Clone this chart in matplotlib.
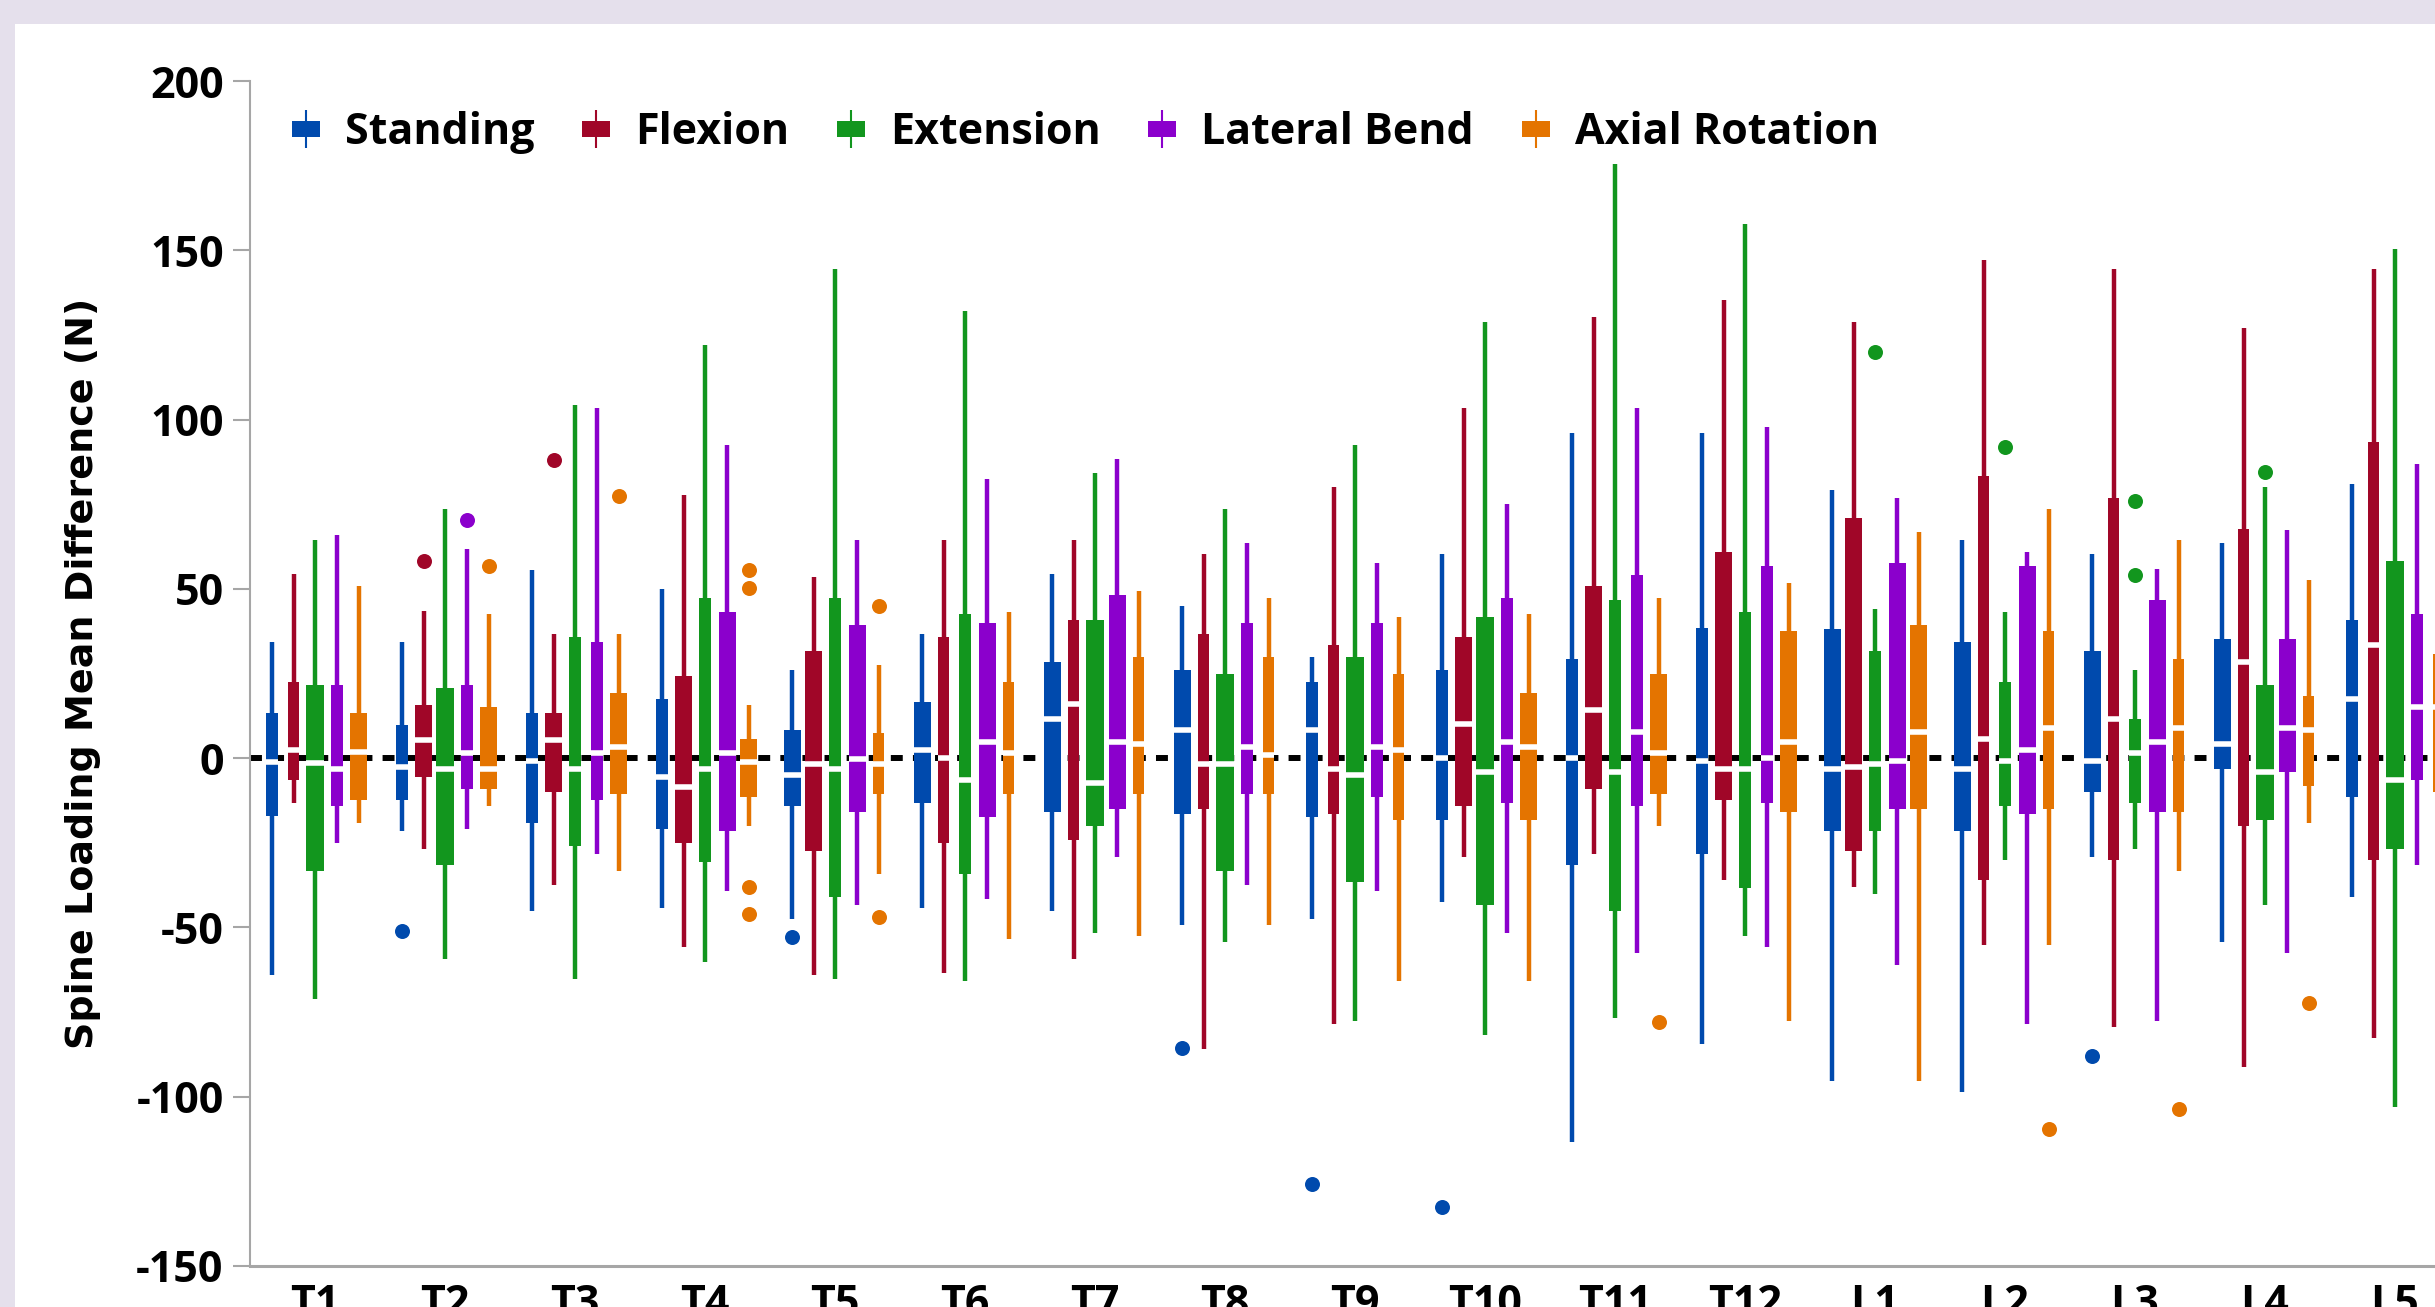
import matplotlib
matplotlib.use("Agg")
import matplotlib.pyplot as plt
from matplotlib.lines import Line2D
from matplotlib.patches import Rectangle
from matplotlib.legend_handler import HandlerTuple

plt.rcParams["axes.unicode_minus"] = False

# --- data ---
levels = ["T1", "T2", "T3", "T4", "T5", "T6", "T7", "T8", "T9", "T10",
          "T11", "T12", "L1", "L2", "L3", "L4", "L5"]
series = ["Standing", "Flexion", "Extension", "Lateral Bend", "Axial Rotation"]

# (whisker low, Q1, median, Q3, whisker high) per level
standing = [(-64, -17.2, -1, 13.3, 34.3), (-21.6, -12.3, -2.7, 9.9, 34.3),
            (-45.2, -19.3, -0.8, 13.3, 55.6), (-44.3, -21, -5.7, 17.5, 49.9),
            (-47.6, -14.2, -4.9, 8.2, 25.9), (-44.3, -13.3, 2.5, 16.6, 36.7),
            (-45, -15.8, 11.7, 28.3, 54.4), (-49.3, -16.6, 8.4, 25.9, 45),
            (-47.6, -17.5, 8.4, 22.6, 30), (-42.5, -18.3, 0, 25.9, 60.2),
            (-113.4, -31.6, 0, 29.2, 95.9), (-84.4, -28.3, -0.8, 38.4, 95.9),
            (-95.3, -21.6, -3.3, 38.2, 79.2), (-98.6, -21.6, -3.3, 34.3, 64.3),
            (-29.2, -10.1, -0.8, 31.6, 60.2), (-54.2, -3.3, 4.1, 35.1, 63.4),
            (-40.9, -11.5, 17.5, 40.9, 80.9)]
flexion = [(-13.3, -6.6, 2.5, 22.6, 54.4), (-26.7, -5.7, 5.5, 15.8, 43.5),
           (-37.6, -9.9, 5.3, 13.3, 36.7), (-55.8, -25, -8.6, 24.2, 77.6),
           (-64.1, -27.5, -1.8, 31.6, 53.4), (-63.4, -25, 0, 35.9, 64.3),
           (-59.3, -24.2, 16, 40.9, 64.3), (-86, -15, -1.6, 36.7, 60.2),
           (-78.6, -16.6, -3.3, 33.3, 80.1), (-29.2, -14.2, 10.1, 35.9, 103.5),
           (-28.3, -9, 14.2, 50.9, 130.4), (-35.9, -12.3, -3.3, 61, 135.3),
           (-38.2, -27.5, -2.5, 70.8, 128.7), (-55.2, -35.9, 5.7, 83.3, 147),
           (-79.4, -30, 11.5, 76.8, 144.5), (-91.1, -19.9, 28.3, 67.8, 127.1),
           (-82.7, -30, 33.5, 93.4, 144.5)]
extension = [(-71, -33.3, -1.5, 21.6, 64.3), (-59.3, -31.6, -3.3, 20.7, 73.5),
             (-65.1, -25.9, -3.3, 35.9, 104.3), (-60.2, -30.8, -3.3, 47.4, 122),
             (-65.1, -40.9, -3.3, 47.4, 144.5), (-65.9, -34.3, -6.6, 42.5, 132),
             (-51.7, -19.9, -7.4, 40.9, 84.2), (-54.2, -33.3, -1.6, 25, 73.5),
             (-77.6, -36.7, -4.9, 30, 92.6), (-81.9, -43.3, -4.1, 41.7, 128.7),
             (-76.8, -45, -4.1, 46.6, 175.5), (-52.6, -38.4, -3.3, 43.3, 157.9),
             (-40, -21.6, -1.6, 31.6, 44.1), (-30, -14.2, -0.8, 22.4, 43.3),
             (-26.7, -13.3, 1.6, 11.7, 25.9), (-43.3, -18.3, -4.1, 21.6, 80.1),
             (-102.9, -26.7, -6.6, 58.3, 150.5)]
lateral = [(-25, -14.2, -3.3, 21.6, 65.9), (-21, -9, 1.6, 21.6, 61.8),
           (-28.3, -12.3, 1.6, 34.3, 103.5), (-39.2, -21.6, 1.4, 43.3, 92.6),
           (-43.5, -15.8, -0.2, 39.2, 64.3), (-41.7, -17.5, 4.9, 40, 82.5),
           (-29.2, -15, 4.9, 48.3, 88.5), (-37.6, -10.7, 3.3, 40, 63.4),
           (-39.2, -11.5, 3.3, 40, 57.7), (-51.7, -13.3, 4.9, 47.4, 75.1),
           (-57.5, -14.2, 7.6, 54.2, 103.5), (-55.8, -13.3, 0, 56.7, 97.7),
           (-61, -15, -0.8, 57.7, 76.8), (-78.6, -16.6, 2.5, 56.7, 61),
           (-77.6, -15.8, 4.9, 46.6, 55.8), (-57.5, -4.1, 9, 35.1, 67.5),
           (-31.6, -6.6, 15, 42.5, 86.8)]
axial = [(-19.3, -12.3, 1.8, 13.3, 50.9), (-14.2, -9, -3.3, 15, 42.7),
         (-33.3, -10.7, 3.3, 19.1, 36.7), (-19.9, -11.5, -1, 5.7, 15.8),
         (-34.3, -10.7, -1.8, 7.4, 27.5), (-53.4, -10.7, 1.6, 22.6, 43.3),
         (-52.6, -10.7, 4.1, 30, 49.3), (-49.3, -10.7, 0.8, 30, 47.4),
         (-65.9, -18.3, 2.5, 25, 41.7), (-65.9, -18.3, 3.3, 19.1, 42.5),
         (-19.9, -10.7, 1.6, 25, 47.4), (-77.6, -15.8, 4.9, 37.6, 51.7),
         (-95.3, -15, 7.6, 39.2, 66.7), (-55.2, -15, 9, 37.6, 73.5),
         (-33.3, -15.8, 9, 29.2, 64.3), (-19.1, -8.2, 8.4, 18.3, 52.6),
         (-35, -9.9, 15, 30.8, 55)]

# outliers: level index -> values
standing_out = {1: [-51.1], 4: [-52.8], 7: [-85.6], 8: [-125.8], 9: [-132.6], 14: [-88]}
flexion_out = {1: [58.1], 2: [88.1]}
extension_out = {12: [120.1], 13: [91.8], 14: [76, 54.2], 15: [84.4]}
lateral_out = {1: [70.2]}
axial_out = {1: [56.7], 2: [77.4], 3: [55.6, 50.3, -38.2, -46], 4: [45, -47],
             10: [-77.8], 13: [-109.4], 14: [-103.6], 15: [-72.3]}

# --- style ---
colors = ["#004AAD", "#A00628", "#12961E", "#8B00CC", "#E47400"]
offsets = [-0.33, -0.165, 0.0, 0.17, 0.335]
# box drawn wide (1) or narrow (0)
wide = [
    [0, 0, 0, 0, 1, 1, 1, 1, 0, 0, 0, 0, 1, 1, 1, 1, 0],
    [0, 1, 1, 1, 1, 0, 0, 0, 0, 1, 1, 1, 1, 0, 0, 0, 0],
    [1, 1, 0, 0, 0, 0, 1, 1, 1, 1, 0, 0, 0, 0, 0, 1, 1],
    [0, 0, 0, 1, 1, 1, 1, 0, 0, 0, 0, 0, 1, 1, 1, 1, 0],
    [1, 1, 1, 1, 0, 0, 0, 0, 0, 1, 1, 1, 1, 0, 0, 0, 0],
]
W, H = 2435, 1307
grey = "#A6A6A6"
tick_font = "Open Sans"
tick_weight = "bold"
tick_size = 31

fig = plt.figure(figsize=(W / 100, H / 100), dpi=100)
fig.patch.set_facecolor("#E5E0EC")
fig.add_artist(Rectangle((15 / W, 0), 1, 1 - 24 / H, transform=fig.transFigure,
                         facecolor="white", edgecolor="none", zorder=-10))

ax = fig.add_axes([250 / W, 41 / H, (W - 250) / W, (1266 - 81) / H])
ax.set_facecolor("none")

all_stats = [standing, flexion, extension, lateral, axial]
all_out = [standing_out, flexion_out, extension_out, lateral_out, axial_out]

for s, (stats, outs, col) in enumerate(zip(all_stats, all_out, colors)):
    bxp_stats = []
    for i, (lo, q1, med, q3, hi) in enumerate(stats):
        bxp_stats.append(dict(whislo=lo, q1=q1, med=med, q3=q3, whishi=hi,
                              fliers=outs.get(i, [])))
    pos = [i + offsets[s] for i in range(len(levels))]
    wid = [0.132 if w else 0.088 for w in wide[s]]
    ax.bxp(bxp_stats, positions=pos, widths=wid, patch_artist=True,
           showcaps=False, manage_ticks=False, zorder=3,
           boxprops=dict(facecolor=col, edgecolor=col, linewidth=0),
           whiskerprops=dict(color=col, linewidth=3.2, solid_capstyle="butt"),
           medianprops=dict(color="white", linewidth=4, solid_capstyle="butt"),
           flierprops=dict(marker="o", markerfacecolor=col, markeredgecolor=col,
                           markeredgewidth=0, markersize=10.8))

ax.axhline(0, color="black", linewidth=4.3, linestyle=(0, (2.0, 1.7)), zorder=1)

ax.set_xlim(-0.5, -0.5 + (W - 250) / 130)
ax.set_ylim(-150, 200)
ax.set_yticks([-150, -100, -50, 0, 50, 100, 150, 200])
ax.set_xticks(range(len(levels)))
ax.set_xticklabels(levels)

for sp in ["top", "right"]:
    ax.spines[sp].set_visible(False)
ax.spines["left"].set_color(grey)
ax.spines["left"].set_linewidth(1.5)
ax.spines["bottom"].set_color(grey)
ax.spines["bottom"].set_linewidth(2.2)

ax.tick_params(axis="y", length=12, width=1.5, color=grey, pad=7)
ax.tick_params(axis="x", length=0, pad=12)
for lab in ax.get_xticklabels() + ax.get_yticklabels():
    lab.set_fontfamily(tick_font)
    lab.set_fontweight(tick_weight)
    lab.set_fontsize(tick_size)

ax.set_ylabel("Spine Loading Mean Difference (N)", fontsize=27.4,
              fontweight="bold", family="DejaVu Sans")
ax.yaxis.set_label_coords(-0.0682, 0.5)

# legend: little box-plot glyphs
handles = []
for col in colors:
    line = Line2D([], [], linestyle="none", marker="|", markersize=27,
                  markeredgewidth=1.5, color=col)
    box = Line2D([], [], linestyle="none",
                 marker=[(-1, -0.57), (1, -0.57), (1, 0.57), (-1, 0.57), (-1, -0.57)],
                 markersize=20, markerfacecolor=col, markeredgecolor=col,
                 markeredgewidth=0)
    handles.append((line, box))

fig.legend(handles, series, handler_map={tuple: HandlerTuple(ndivide=1)},
           loc="center left", bbox_to_anchor=(284 / W, 1 - 133 / H),
           ncol=5, frameon=False, borderpad=0, borderaxespad=0,
           handlelength=1.0, handletextpad=0.41, columnspacing=0.93,
           prop=dict(family=tick_font, weight=tick_weight, size=tick_size))

fig.savefig("out.png", dpi=100)
